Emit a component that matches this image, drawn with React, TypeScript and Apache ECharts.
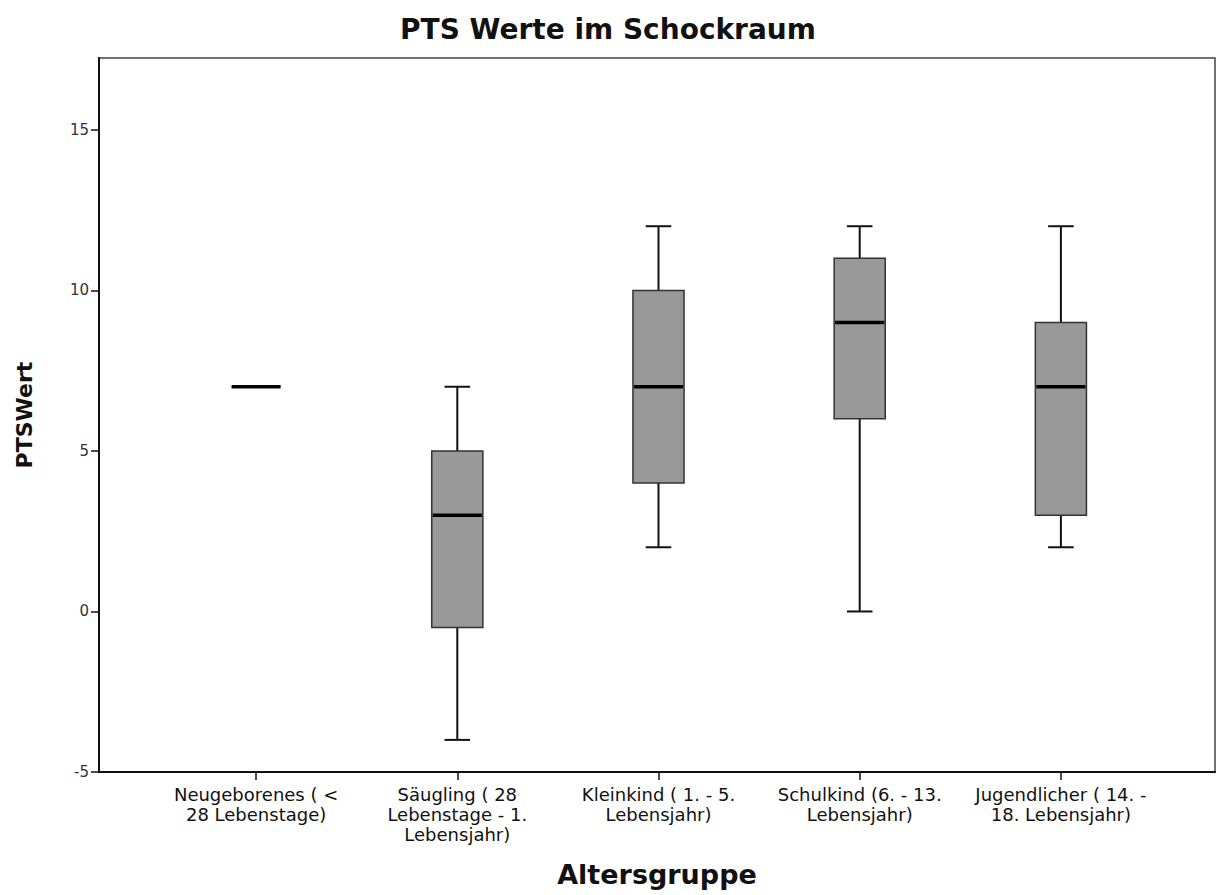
import React, { useEffect, useRef } from "react";
import * as echarts from "echarts";

// Age groups (x axis)
const categories = [
  "Neugeborenes ( <\n28 Lebenstage)",
  "Säugling ( 28\nLebenstage - 1.\nLebensjahr)",
  "Kleinkind ( 1. - 5.\nLebensjahr)",
  "Schulkind (6. - 13.\nLebensjahr)",
  "Jugendlicher ( 14. -\n18. Lebensjahr)",
];

// Five-number summaries of the PTS score per age group
const minVals = [7, -4, 2, 0, 2];
const q1Vals = [7, -0.5, 4, 6, 3];
const medianVals = [7, 3, 7, 9, 7];
const q3Vals = [7, 5, 10, 11, 9];
const maxVals = [7, 7, 12, 12, 12];

// Value axis
const yMin = -5;
const yMax = 17.24;
const yTicks = [-5, 0, 5, 10, 15];

const FONT = "DejaVu Sans";

function renderBox(params: any, api: any) {
  const i = api.value(0);
  const lo = api.coord([i, api.value(1)]);
  const q1 = api.coord([i, api.value(2)]);
  const md = api.coord([i, api.value(3)]);
  const q3 = api.coord([i, api.value(4)]);
  const hi = api.coord([i, api.value(5)]);
  const band = api.size([1, 0])[0];
  const half = band * 0.127;
  const capHalf = half / 2;
  const x = md[0];
  const whisker = { stroke: "#111", lineWidth: 2 };
  const children: any[] = [];

  if (hi[1] < q3[1] - 0.5) {
    children.push({ type: "line", shape: { x1: x, y1: hi[1], x2: x, y2: q3[1] }, style: whisker });
    children.push({ type: "line", shape: { x1: x - capHalf, y1: hi[1], x2: x + capHalf, y2: hi[1] }, style: whisker });
  }
  if (lo[1] > q1[1] + 0.5) {
    children.push({ type: "line", shape: { x1: x, y1: q1[1], x2: x, y2: lo[1] }, style: whisker });
    children.push({ type: "line", shape: { x1: x - capHalf, y1: lo[1], x2: x + capHalf, y2: lo[1] }, style: whisker });
  }
  if (q1[1] - q3[1] > 0.5) {
    children.push({
      type: "rect",
      shape: { x: x - half, y: q3[1], width: half * 2, height: q1[1] - q3[1] },
      style: { fill: "#999999", stroke: "#333", lineWidth: 1.5 },
    });
  }
  children.push({
    type: "line",
    shape: { x1: x - half + 1, y1: md[1], x2: x + half - 1, y2: md[1] },
    style: { stroke: "#000", lineWidth: 3.5 },
  });
  return { type: "group", children };
}

export default function App() {
  const ref = useRef<HTMLDivElement>(null);

  useEffect(() => {
    document.body.style.margin = "0";
    if (!ref.current) return;
    const chart = echarts.init(ref.current, null, { renderer: "svg" });

    const data = categories.map((_, i) => [i, minVals[i], q1Vals[i], medianVals[i], q3Vals[i], maxVals[i]]);

    chart.setOption({
      animation: false,
      backgroundColor: "#fff",
      title: {
        text: "PTS Werte im Schockraum",
        left: "center",
        top: 10,
        textStyle: { fontFamily: FONT, fontSize: 28, fontWeight: "bold", color: "#111" },
      },
      grid: [
        {
          left: 99,
          right: 1,
          top: 58,
          bottom: 123,
          show: true,
          borderColor: "#444",
          borderWidth: 1.5,
          backgroundColor: "transparent",
          outerBoundsMode: "none",
        },
        { left: 155.5, right: 54.5, top: 58, bottom: 123, outerBoundsMode: "none" },
      ],
      xAxis: [
        {
          gridIndex: 0,
          type: "value",
          min: 0,
          max: 1,
          axisLine: { show: true, onZero: false, lineStyle: { color: "#111", width: 2 } },
          axisTick: { show: false },
          axisLabel: { show: false },
          splitLine: { show: false },
          name: "Altersgruppe",
          nameLocation: "middle",
          nameGap: 89,
          nameTextStyle: { fontFamily: FONT, fontSize: 27, fontWeight: "bold", color: "#111" },
        },
        {
          gridIndex: 1,
          type: "category",
          data: categories,
          axisLine: { show: false, onZero: false },
          axisTick: { show: true, alignWithLabel: true, length: 8, lineStyle: { color: "#111", width: 1.5 } },
          axisLabel: {
            interval: 0,
            margin: 12,
            fontFamily: FONT,
            fontSize: 18,
            lineHeight: 20,
            color: "#111",
          },
          splitLine: { show: false },
        },
      ],
      yAxis: [
        {
          gridIndex: 0,
          type: "value",
          min: yMin,
          max: yMax,
          axisLine: { show: true, lineStyle: { color: "#111", width: 2 } },
          axisTick: { show: true, length: 8, customValues: yTicks, lineStyle: { color: "#111", width: 1.5 } },
          axisLabel: { customValues: yTicks, fontFamily: FONT, fontSize: 15, color: "#333", margin: 10 },
          splitLine: { show: false },
          name: "PTSWert",
          nameLocation: "middle",
          nameGap: 64,
          nameTextStyle: { fontFamily: FONT, fontSize: 22, fontWeight: "bold", color: "#111" },
        },
        {
          gridIndex: 1,
          type: "value",
          min: yMin,
          max: yMax,
          show: false,
        },
      ],
      series: [
        {
          type: "custom",
          name: "PTSWert",
          xAxisIndex: 1,
          yAxisIndex: 1,
          renderItem: renderBox,
          encode: { x: 0, y: [1, 2, 3, 4, 5] },
          data,
        },
      ],
    });

    return () => chart.dispose();
  }, []);

  return <div ref={ref} style={{ width: 1216, height: 895 }} />;
}
